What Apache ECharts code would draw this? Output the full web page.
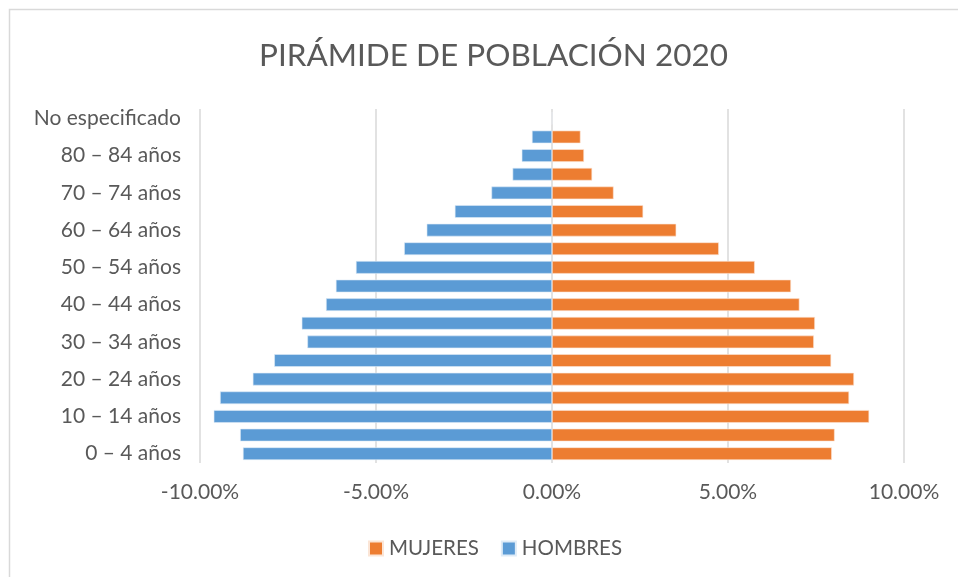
<!DOCTYPE html>
<html>
<head>
<meta charset="utf-8">
<script src="https://cdn.jsdelivr.net/npm/echarts@6/dist/echarts.min.js"></script>
<style>
html,body{margin:0;padding:0;background:#fff;}
#chart{width:958px;height:577px;}
</style>
</head>
<body>
<div id="chart"></div>
<script>
var categories = ['0 – 4 años','5 – 9 años','10 – 14 años','15 – 19 años','20 – 24 años','25 – 29 años','30 – 34 años','35 – 39 años','40 – 44 años','45 – 49 años','50 – 54 años','55 – 59 años','60 – 64 años','65 – 69 años','70 – 74 años','75 – 79 años','80 – 84 años','85 años y más','No especificado'];
var mujeres = [7.95, 8.03, 9.01, 8.44, 8.58, 7.93, 7.44, 7.47, 7.03, 6.79, 5.76, 4.74, 3.53, 2.59, 1.75, 1.14, 0.91, 0.81, 0.00];
var hombres = [8.78, 8.86, 9.61, 9.43, 8.50, 7.89, 6.95, 7.11, 6.42, 6.14, 5.57, 4.20, 3.56, 2.76, 1.72, 1.12, 0.86, 0.57, 0.00];
var xTicks = { min: -10, max: 10, interval: 5 };

var FONT = 'Lato';
var chart = echarts.init(document.getElementById('chart'));
chart.setOption({
  animation: false,
  backgroundColor: '#ffffff',
  textStyle: { fontFamily: FONT },
  title: {
    text: 'PIRÁMIDE DE POBLACIÓN 2020',
    left: 254,
    top: 35,
    textStyle: { fontFamily: FONT, fontSize: 31.5, fontWeight: 'normal', color: '#595959' }
  },
  graphic: [{
    type: 'rect',
    shape: { x: 9.5, y: 9.5, width: 1000, height: 1000 },
    style: { fill: 'none', stroke: '#d9d9d9', lineWidth: 1.5 },
    silent: true
  }],
  legend: {
    data: ['MUJERES', 'HOMBRES'],
    bottom: 13,
    left: 363,
    itemWidth: 14,
    itemHeight: 14,
    itemGap: 22,
    icon: 'rect',
    textStyle: { fontFamily: FONT, fontSize: 20.5, color: '#595959', padding: [0, 0, 0, 1] }
  },
  grid: { left: 200, right: 54, top: 109, bottom: 114, containLabel: false },
  xAxis: {
    type: 'value',
    min: xTicks.min,
    max: xTicks.max,
    interval: xTicks.interval,
    axisLine: { show: false },
    axisTick: { show: false },
    splitLine: { show: true, lineStyle: { color: '#d9d9d9', width: 1.5 } },
    axisLabel: {
      margin: 19,
      fontFamily: FONT, fontSize: 21, color: '#595959',
      formatter: function (v) { return v.toFixed(2) + '%'; }
    }
  },
  yAxis: {
    type: 'category',
    data: categories,
    axisLine: { show: false },
    axisTick: { show: false },
    splitLine: { show: false },
    axisLabel: { interval: 1, margin: 19, fontFamily: FONT, fontSize: 21, color: '#595959' }
  },
  series: [
    {
      name: 'MUJERES',
      type: 'bar',
      data: mujeres,
      barCategoryGap: '32%',
      barGap: '-100%',
      itemStyle: { color: '#ED7D31', borderColor: '#fbe5d6', borderWidth: 0.6 }
    },
    {
      name: 'HOMBRES',
      type: 'bar',
      data: hombres.map(function (v) { return -v; }),
      barCategoryGap: '32%',
      barGap: '-100%',
      itemStyle: { color: '#5B9BD5', borderColor: '#deebf7', borderWidth: 0.6 }
    }
  ]
});
</script>
</body>
</html>
